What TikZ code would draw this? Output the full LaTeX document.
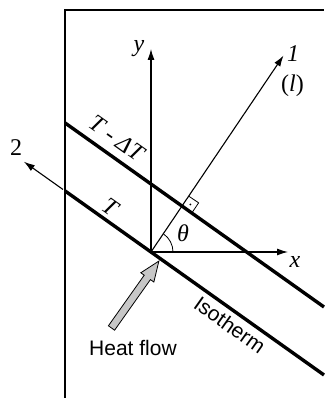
\documentclass[tikz,border=0pt]{standalone}
\usepackage{fontspec}
\setmainfont{Liberation Serif}
\newfontfamily\arialfont{Liberation Sans}
\usetikzlibrary{arrows.meta,calc}
\tikzset{
  thinline/.style={line width=1.1pt},
  isoline/.style={line width=3.4pt},
  axisarrow/.style={line width=1.1pt,-{Latex[length=11pt,width=7pt]}},
  lbl/.style={inner sep=0pt,font=\fontsize{24}{24}\selectfont\itshape},
  ulbl/.style={inner sep=0pt,font=\fontsize{24}{24}\selectfont},
  slbl/.style={inner sep=0pt,font=\fontsize{21}{21}\selectfont\arialfont},
  heatarrow/.style={fill=black!22,draw=black,line width=0.8pt,line join=miter}
}
\begin{document}
\begin{tikzpicture}[x=1pt,y=1pt]
\useasboundingbox (0,0) rectangle (324,398);
% frame
\draw[thinline] (65,0) -- (65,388) -- (324,388);
% origin and key points
\coordinate (O) at (151,146);
\coordinate (Lleft) at (65,207.1);
\coordinate (Lright) at (324,23.0);
\coordinate (Uleft) at (65,275.1);
\coordinate (Uright) at (324,91.0);
\coordinate (ytip) at (151,349);
\coordinate (xtip) at (288,146);
\coordinate (onetip) at ($(O)+(56:237)$);
\coordinate (P) at ($(O)+(56:55.4)$);
\coordinate (twostart) at (63,208.5);
\coordinate (twotip) at ($(twostart)+(144.6:48)$);
% axes
\draw[axisarrow] (O) -- (ytip);
\draw[axisarrow] (O) -- (xtip);
\draw[axisarrow] (O) -- (onetip);
\draw[axisarrow] (twostart) -- (twotip);
% isotherms
\draw[isoline] (Lleft) -- (Lright);
\draw[isoline] (Uleft) -- (Uright);
% right angle marker
\draw[line width=0.8pt] ($(P)+(56:12)$) -- ($(P)+(56:12)+(-34:12)$) -- ($(P)+(-34:12)$);
\fill ($(P)+(56:6)+(-34:6)$) circle (1pt);
% angle arc
\draw[line width=0.8pt] ($(O)+(0:22)$) arc (0:56:22);
% heat flow arrow
\begin{scope}[shift={(111.5,70)},rotate=54.7]
\draw[heatarrow] (0,-3.8) -- (62,-3.8) -- (62,-8) -- (82,0) -- (62,8) -- (62,3.8) -- (0,3.8) -- cycle;
\end{scope}
% labels
\node[lbl] (ylab) at (139,349) {y};
\node[lbl] (xlab) at (295,136) {x};
\node[lbl] (thlab) at (183,165) {θ};
\node[lbl] (onelab) at (293,344.5) {1};
\node[ulbl] (llab) at (292.5,312) {(\textit{l})};
\node[ulbl] (twolab) at (16,250) {2};
\node[lbl,rotate=-35.4] (tdt) at (117,260) {T - ΔT};
\node[lbl,rotate=-35.4] (tlab) at (110,191) {T};
\node[slbl,rotate=-35.4] (iso) at (230,73) {Isotherm};
\node[slbl] (heat) at (133,50) {Heat flow};
\end{tikzpicture}
\end{document}
